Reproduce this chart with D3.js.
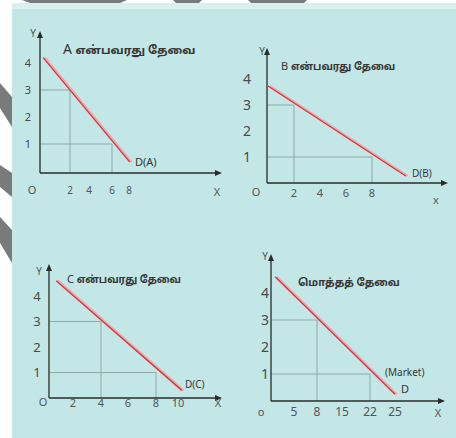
<!DOCTYPE html>
<html>
<head>
<meta charset="utf-8">
<script src="https://cdn.jsdelivr.net/npm/d3@7/dist/d3.min.js"></script>
<style>
  html, body { margin: 0; padding: 0; background: #ffffff; }
  svg { display: block; }
  text { font-family: "Noto Sans", "DejaVu Sans", sans-serif; }
  .tamil { font-family: "Noto Sans Tamil", "Lohit Tamil", "Latha", "Noto Sans", sans-serif; }
</style>
</head>
<body>
<svg id="chart" width="456" height="438"></svg>
<script>
// ---------------- data ----------------
const panelNames   = ["A", "B", "C", "Market"];
const titleLetters = ["A", "B", "C", ""];
const titleTexts   = ["என்பவரது தேவை", "என்பவரது தேவை", "என்பவரது தேவை", "மொத்தத் தேவை"];
const curveLabels  = ["D(A)", "D(B)", "D(C)", "(Market)"];
const curveLabels2 = ["", "", "", "D"];
const priceTicks   = [1, 2, 3, 4];
const qtyTicksA    = [2, 4, 6, 8];
const qtyTicksB    = [2, 4, 6, 8];
const qtyTicksC    = [2, 4, 6, 8, 10];
const qtyTicksM    = [5, 8, 15, 22, 25];
const guidePrices  = [3, 1];
const qtyAtPrice3  = [2, 2, 4, 8];
const qtyAtPrice1  = [6, 8, 8, 22];
const lineStartQ   = [0.15, 0, 0.6, 0.9];
const lineStartP   = [4.2, 3.73, 4.6, 4.6];
const lineEndQ     = [8.1, 10.6, 10.35, 25];
const lineEndP     = [0.33, 0.27, 0.3, 0.25];

// ---------------- layout (pixels) ----------------
const qtyTicks = [qtyTicksA, qtyTicksB, qtyTicksC, qtyTicksM];
const layout = [
  { ax: 40,  ay: 173, xr: [41, 70, 89, 112, 129],        yr: [171, 63],  top: 31,  right: 222, tdy: 17, tfs: 10, ylx: 28,  yfs: 11,
    ox: 32, oy: 190, Xx: 217, Xy: 192, Yx: 33, Yy: 33, tx: 63, ty: 48, tlx: 135, tly: 162, lfs: 11, lfsz: 14, tfsz: 11.5 },
  { ax: 267, ay: 183, xr: [268, 294, 320, 346, 372],     yr: [183, 79],  top: 48,  right: 448, tdy: 10, tfs: 11, ylx: 247, yfs: 14,
    ox: 256, oy: 192, Xx: 436, Xy: 200, Yx: 262, Yy: 51, tx: 281, ty: 64, tlx: 412, tly: 173, lfs: 10, lfsz: 11, tfsz: 10 },
  { ax: 49,  ay: 398, xr: [49, 73, 101, 128, 156, 178],  yr: [398, 296], top: 264, right: 222, tdy: 5,  tfs: 11, ylx: 37,  yfs: 13,
    ox: 43, oy: 402, Xx: 218, Xy: 403, Yx: 39, Yy: 271, tx: 67, ty: 277, tlx: 185, tly: 384, lfs: 10, lfsz: 11, tfsz: 10 },
  { ax: 271, ay: 401, xr: [271, 294, 317, 342, 370, 395], yr: [401, 293], top: 254, right: 445, tdy: 11, tfs: 12, ylx: 265, yfs: 14,
    ox: 261, oy: 412, Xx: 438, Xy: 413, Yx: 265, Yy: 256, tx: 298, ty: 280, tlx: 385, tly: 372, lfs: 10, lfsz: 11, tfsz: 10.5 }
];

const svg = d3.select("#chart");

// background (scanned page look)
svg.append("rect").attr("x", 0).attr("y", 0).attr("width", 456).attr("height", 438).attr("fill", "#ffffff");
svg.append("rect").attr("x", 12).attr("y", 3).attr("width", 444).attr("height", 435).attr("fill", "#c3e6e6");
svg.append("rect").attr("x", 12).attr("y", 3).attr("width", 444).attr("height", 6).attr("fill", "#d9f0f0");

// decorative scan artifacts at the page edges
const artifactFill = "#7a7a7a";
[[[22,0],[127,0],[120,3],[30,3]], [[173,0],[202,0],[199,3],[176,3]], [[248,0],[307,0],[304,3],[251,3]],
 [[0,83],[12,97],[12,127],[0,108]], [[0,165],[12,173],[12,197],[0,187]], [[0,217],[12,230],[12,263],[0,243]]]
  .forEach(pts => svg.append("polygon").attr("points", pts.map(p => p.join(",")).join(" ")).attr("fill", artifactFill));

const axisColor = "#2b2b2b";
const guideColor = "#8fa9a9";
const textColor = "#363636";

panelNames.forEach((name, i) => {
  const L = layout[i];
  const g = svg.append("g").attr("class", "panel panel-" + name);
  const x = d3.scaleLinear().domain([0].concat(qtyTicks[i])).range(L.xr);
  const y = d3.scaleLinear().domain([0, 4]).range(L.yr);

  // guide lines
  const guideQ = [qtyAtPrice3[i], qtyAtPrice1[i]];
  guidePrices.forEach((p, k) => {
    const q = guideQ[k];
    g.append("line").attr("x1", L.ax).attr("x2", x(q)).attr("y1", y(p)).attr("y2", y(p))
      .attr("stroke", guideColor).attr("stroke-width", 1);
    g.append("line").attr("x1", x(q)).attr("x2", x(q)).attr("y1", y(p)).attr("y2", L.ay)
      .attr("stroke", guideColor).attr("stroke-width", 1);
  });

  // axes
  g.append("line").attr("x1", L.ax).attr("x2", L.ax).attr("y1", L.ay).attr("y2", L.top + 4)
    .attr("stroke", axisColor).attr("stroke-width", 1.3);
  g.append("line").attr("x1", L.ax).attr("x2", L.right - 4).attr("y1", L.ay).attr("y2", L.ay)
    .attr("stroke", axisColor).attr("stroke-width", 1.3);
  g.append("path").attr("d", `M${L.ax},${L.top} L${L.ax - 3},${L.top + 7} L${L.ax + 3},${L.top + 7} Z`).attr("fill", axisColor);
  g.append("path").attr("d", `M${L.right},${L.ay} L${L.right - 7},${L.ay - 3} L${L.right - 7},${L.ay + 3} Z`).attr("fill", axisColor);

  // demand line (red with pink halo)
  const pts = [[lineStartQ[i], lineStartP[i]], [lineEndQ[i], lineEndP[i]]];
  const lineGen = d3.line().x(d => x(d[0])).y(d => y(d[1]));
  g.append("path").attr("d", lineGen(pts)).attr("fill", "none")
    .attr("stroke", "#f2a9ad").attr("stroke-width", 2.2).attr("transform", "translate(1.8,0)");
  g.append("path").attr("d", lineGen(pts)).attr("fill", "none")
    .attr("stroke", "#d03a40").attr("stroke-width", 1.4);

  // x tick labels
  g.selectAll(".xt").data(qtyTicks[i]).enter().append("text")
    .attr("x", d => x(d)).attr("y", L.ay + L.tdy).attr("dy", "0.35em")
    .attr("text-anchor", "middle").attr("font-size", L.tfs).attr("fill", "#555")
    .text(d => d);
  // y tick labels
  g.selectAll(".yt").data(priceTicks).enter().append("text")
    .attr("x", L.ylx).attr("y", d => y(d)).attr("dy", "0.35em")
    .attr("text-anchor", "middle").attr("font-size", L.yfs).attr("fill", "#4a4a4a")
    .text(d => d);

  // origin and axis names
  g.append("text").attr("x", L.ox).attr("y", L.oy).attr("dy", "0.35em").attr("text-anchor", "middle")
    .attr("font-size", 11).attr("fill", "#555").text(i === 3 ? "o" : "O");
  g.append("text").attr("x", L.Xx).attr("y", L.Xy).attr("dy", "0.35em").attr("text-anchor", "middle")
    .attr("font-size", 11).attr("fill", "#555").text(i === 1 ? "x" : "X");
  g.append("text").attr("x", L.Yx).attr("y", L.Yy).attr("dy", "0.35em").attr("text-anchor", "middle")
    .attr("font-size", 10).attr("fill", "#555").text("Y");

  // title
  const t = g.append("text").attr("x", L.tx).attr("y", L.ty).attr("dy", "0.35em").attr("fill", textColor);
  if (titleLetters[i]) {
    t.append("tspan").attr("font-size", L.lfsz).text(titleLetters[i] + " ");
  }
  t.append("tspan").attr("class", "tamil").attr("font-size", L.tfsz).attr("font-weight", "bold")
    .text(titleTexts[i]);

  // curve label
  g.append("text").attr("x", L.tlx).attr("y", L.tly).attr("dy", "0.35em")
    .attr("font-size", L.lfs).attr("fill", textColor).text(curveLabels[i]);
  if (curveLabels2[i]) {
    g.append("text").attr("x", L.tlx + 16).attr("y", L.tly + 17).attr("dy", "0.35em")
      .attr("font-size", 11).attr("fill", textColor).text(curveLabels2[i]);
  }
});
</script>
</body>
</html>
